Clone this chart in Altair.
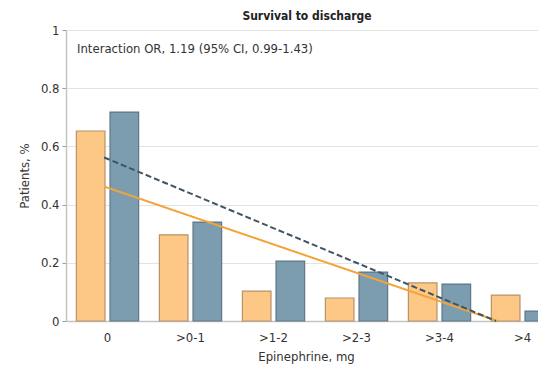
import altair as alt
import pandas as pd

categories = ["0", ">0-1", ">1-2", ">2-3", ">3-4", ">4"]
orange_vals = [0.653, 0.296, 0.103, 0.079, 0.131, 0.089]
blue_vals = [0.718, 0.340, 0.206, 0.168, 0.127, 0.034]
series_names = ["A", "B"]

# fitted trend lines (category-index units)
line_x_orange = [-0.04, 4.70]
line_y_orange = [0.462, 0.0]
line_x_blue = [-0.04, 4.68]
line_y_blue = [0.562, 0.0]

annotation = "Interaction OR, 1.19 (95% CI, 0.99-1.43)"

FONT = "DejaVu Sans Condensed"
RANGE = [0, 498]

bars_df = pd.DataFrame(
    [{"cat": c, "series": "A", "value": v} for c, v in zip(categories, orange_vals)]
    + [{"cat": c, "series": "B", "value": v} for c, v in zip(categories, blue_vals)]
)
lines_df = pd.DataFrame(
    [{"idx": x, "value": y, "series": "A"} for x, y in zip(line_x_orange, line_y_orange)]
    + [{"idx": x, "value": y, "series": "B"} for x, y in zip(line_x_blue, line_y_blue)]
)

yscale = alt.Scale(domain=[0, 1], nice=False)
yaxis = alt.Axis(
    values=[0, 0.2, 0.4, 0.6, 0.8, 1.0], format="~g", title="Patients, %",
    grid=True, gridColor="#e3e3e3", domainColor="#c4c4c4", domainWidth=1.5,
    tickColor="#9a9a9a", tickSize=4, labelFont=FONT, labelFontSize=13,
    labelColor="#333333", titleFont=FONT, titleFontSize=13, titleFontWeight="normal",
    titleColor="#333333", titlePadding=9, labelPadding=3,
)

bars = alt.Chart(bars_df).mark_bar(strokeWidth=1.2).encode(
    x=alt.X("cat:N", sort=categories,
            scale=alt.Scale(range=RANGE, paddingInner=0.25, paddingOuter=0.125),
            axis=alt.Axis(title="Epinephrine, mg", labelAngle=0, ticks=False,
                          domainColor="#c4c4c4", domainWidth=1.5, labelFont=FONT,
                          labelFontSize=13, labelColor="#333333", labelPadding=10,
                          titleFont=FONT, titleFontSize=13, titleFontWeight="normal",
                          titleColor="#333333", titleX=240, titlePadding=6)),
    xOffset=alt.XOffset("series:N", scale=alt.Scale(paddingInner=0.15)),
    y=alt.Y("value:Q", scale=yscale, axis=yaxis),
    fill=alt.Fill("series:N", scale=alt.Scale(domain=series_names, range=["#FDC886", "#7C9DB0"]), legend=None),
    stroke=alt.Stroke("series:N", scale=alt.Scale(domain=series_names, range=["#B8926A", "#5E7685"]), legend=None),
)

lines = alt.Chart(lines_df).mark_line(strokeWidth=2).encode(
    x=alt.X("idx:Q", scale=alt.Scale(domain=[-0.5, 5.5], range=RANGE, nice=False, zero=False), axis=None),
    y=alt.Y("value:Q", scale=yscale),
    color=alt.Color("series:N", scale=alt.Scale(domain=series_names, range=["#F2A43A", "#3F5565"]), legend=None),
    strokeDash=alt.StrokeDash("series:N", scale=alt.Scale(domain=series_names, range=[[1, 0], [6, 3]]), legend=None),
    detail="series:N",
)

text = alt.Chart(pd.DataFrame({"t": [annotation]})).mark_text(
    align="left", baseline="middle", font=FONT, fontSize=13, color="#333333"
).encode(x=alt.value(11), y=alt.value(19), text="t:N")

chart = alt.layer(bars, lines, text).resolve_scale(
    x="independent", color="independent", stroke="independent"
).properties(
    width=472, height=291,
    title=alt.TitleParams("Survival to discharge", font=FONT, fontSize=12, fontWeight="bold",
                          color="#222222", anchor="middle", offset=1, dx=5),
    autosize=alt.AutoSizeParams(type="none"),
    padding={"left": 66, "top": 30, "right": 0, "bottom": 47},
).configure_view(stroke=None)

chart.save("out.html", embed_options={"renderer": "svg", "actions": False})
